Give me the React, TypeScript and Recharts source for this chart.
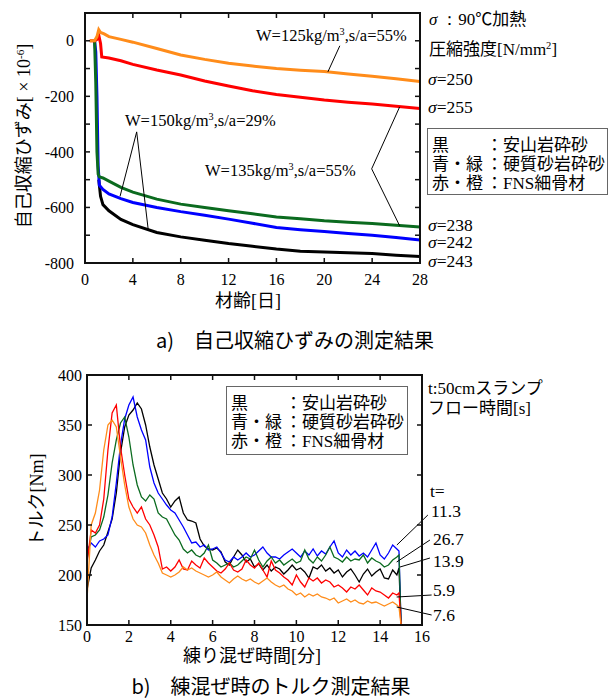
import React from "react"
import { Line, LineChart, ReferenceLine, XAxis, YAxis } from "recharts"

const SERIF = '"Liberation Serif", "Times New Roman", serif'
const SANS = '"Noto Sans CJK JP", "Noto Sans", sans-serif'
const INK = "#111111"

const COLORS = {
  black: "#000000",
  blue: "#0000ff",
  green: "#0b6b1f",
  red: "#ff0000",
  orange: "#ff8c1a",
}

// a) 自己収縮ひずみ  (材齢 [日] vs ひずみ [×10^-6])
const DAY_TICKS = [0, 4, 8, 12, 16, 20, 24, 28]
const STRAIN_TICKS = [-800, -700, -600, -500, -400, -300, -200, -100, 0]

const ORANGE_DAYS = [0.4, 0.8, 1.0, 1.15, 1.3, 1.6, 2, 3, 4, 6, 8, 10, 12, 14, 16, 18, 20, 22, 24, 26, 28]
const ORANGE_STRAIN = [0, 0, 15, 40, 30, 25, 15, 5, -5, -28, -51, -67, -81, -91, -100, -106, -111, -120, -128, -137, -147]

const RED_DAYS = [0.4, 0.8, 1.0, 1.15, 1.3, 1.4, 2, 3, 4, 6, 8, 10, 12, 14, 16, 18, 20, 22, 24, 26, 28]
const RED_STRAIN = [0, 0, 5, 20, -10, -58, -62, -72, -85, -105, -123, -145, -163, -180, -193, -203, -213, -221, -228, -236, -244]

const GREEN_DAYS = [0.8, 0.9, 1.0, 1.1, 1.2, 1.5, 2, 3, 4, 6, 8, 10, 12, 14, 16, 18, 20, 22, 24, 26, 28]
const GREEN_STRAIN = [0, -150, -400, -480, -490, -494, -505, -528, -545, -570, -588, -600, -612, -623, -634, -641, -648, -653, -658, -664, -670]

const BLUE_DAYS = [0.8, 0.9, 1.0, 1.1, 1.2, 1.5, 2, 3, 4, 6, 8, 10, 12, 14, 16, 18, 20, 22, 24, 26, 28]
const BLUE_STRAIN = [0, -40, -200, -450, -520, -535, -551, -568, -582, -600, -615, -628, -642, -657, -672, -680, -687, -694, -700, -708, -717]

const BLACK_DAYS = [1.15, 1.3, 1.5, 2, 3, 4, 6, 8, 10, 12, 14, 16, 18, 20, 22, 24, 26, 28]
const BLACK_STRAIN = [-500, -560, -590, -612, -643, -662, -690, -706, -718, -730, -740, -750, -758, -760, -763, -766, -772, -777]

// b) トルク  (練り混ぜ時間 [分] vs トルク [Nm])
const MIN_TICKS = [0, 2, 4, 6, 8, 10, 12, 14, 16]
const TORQUE_TICKS = [150, 200, 250, 300, 350, 400]

const MIX_TIME = [
  0, 0.2, 0.4, 0.6, 0.8,
  1, 1.2, 1.4, 1.6, 1.8,
  2, 2.2, 2.4, 2.6, 2.8,
  3, 3.2, 3.4, 3.6, 3.8,
  4, 4.2, 4.4, 4.6, 4.8,
  5, 5.2, 5.4, 5.6, 5.8,
  6, 6.2, 6.4, 6.6, 6.8,
  7, 7.2, 7.4, 7.6, 7.8,
  8, 8.2, 8.4, 8.6, 8.8,
  9, 9.2, 9.4, 9.6, 9.8,
  10, 10.2, 10.4, 10.6, 10.8,
  11, 11.2, 11.4, 11.6, 11.8,
  12, 12.2, 12.4, 12.6, 12.8,
  13, 13.2, 13.4, 13.6, 13.8,
  14, 14.2, 14.4, 14.6, 14.8,
  14.9, 15,
]

const TORQUE_BLACK = [
  185, 207, 215, 224, 230,
  243, 256, 282, 322, 348,
  360, 365, 372, 366, 350,
  328, 310, 296, 282, 276,
  268, 274, 278, 262, 255,
  254, 252, 236, 229, 226,
  225, 227, 223, 213, 210,
  218, 225, 220, 213, 216,
  208, 211, 205, 210, 204,
  208, 206, 201, 205, 210,
  205, 207, 203, 197, 208,
  206, 210, 204, 207, 202,
  205, 198, 203, 206, 200,
  193, 201, 206, 199, 203,
  206, 197, 196, 205, 200,
  207, 150,
]

const TORQUE_BLUE = [
  225, 232, 228, 234, 236,
  240, 258, 292, 330, 356,
  370, 378, 358, 345, 335,
  308, 292, 282, 276, 270,
  265, 262, 255, 248, 240,
  232, 233, 228, 230, 225,
  226, 228, 222, 215, 213,
  218, 215, 218, 222, 218,
  220, 224, 228, 222, 218,
  218, 216, 220, 223, 226,
  222, 218, 224, 220, 226,
  219, 224, 221, 228, 234,
  222, 218, 225, 220, 224,
  219, 222, 218, 225, 232,
  220, 216, 222, 230, 226,
  224, 150,
]

const TORQUE_GREEN = [
  215, 238, 240, 245, 258,
  280, 312, 335, 352, 358,
  338, 310, 290, 278, 274,
  280, 276, 262, 258, 256,
  248, 240, 235, 226, 222,
  225, 220, 218, 222, 230,
  215, 212, 208, 210, 212,
  208, 210, 214, 218, 216,
  225, 215, 208, 214, 218,
  212, 215, 210, 213, 216,
  212, 214, 225, 216, 212,
  218, 214, 220, 228, 218,
  216, 213, 218, 214, 216,
  215, 220, 212, 217, 214,
  212, 208, 210, 215, 218,
  220, 150,
]

const TORQUE_RED = [
  212, 245, 242, 250, 276,
  325, 362, 370, 328, 300,
  276, 268, 262, 268, 256,
  250, 240, 228, 206, 208,
  204, 208, 215, 206, 205,
  214, 210, 207, 217, 212,
  208, 204, 202, 206, 212,
  205, 203, 206, 215, 210,
  207, 212, 205, 198, 214,
  205, 202, 198, 195, 190,
  200, 193, 188, 197, 194,
  197, 192, 195, 193, 188,
  190, 187, 183, 188, 186,
  190, 185, 180, 187, 184,
  183, 180, 177, 182, 180,
  182, 150,
]

const TORQUE_ORANGE = [
  175, 250, 262, 285, 325,
  350, 355, 348, 318, 290,
  268, 256, 250, 248, 242,
  230, 220, 212, 202, 200,
  198, 200, 203, 208, 205,
  207, 204, 202, 200, 198,
  200, 203, 198, 195, 192,
  196, 199, 196, 194, 196,
  193, 191, 194, 197, 193,
  190, 188, 190, 186, 184,
  180, 182, 178, 181, 179,
  181, 178, 177, 175, 177,
  172, 174, 176, 173, 175,
  172, 171, 174, 172, 173,
  171, 169, 171, 173, 170,
  168, 150,
]

const KEY_ROWS = [
  ["黒", "安山岩砕砂"],
  ["青・緑", "硬質砂岩砕砂"],
  ["赤・橙", "FNS細骨材"],
]

const STRENGTHS = [
  { label: "250", top: 71 },
  { label: "255", top: 99 },
  { label: "238", top: 217 },
  { label: "242", top: 234 },
  { label: "243", top: 253 },
]

const FLOW_TIMES = [
  { label: "11.3", left: 431, top: 503 },
  { label: "26.7", left: 433, top: 531 },
  { label: "13.9", left: 433, top: 553 },
  { label: "5.9", left: 433, top: 582 },
  { label: "7.6", left: 433, top: 607 },
]

const zip = (xs: number[], ys: number[]) => xs.map((x, i) => ({ x, y: ys[i] }))

const torqueRows = MIX_TIME.map((t, i) => ({
  t,
  k: TORQUE_BLACK[i],
  b: TORQUE_BLUE[i],
  g: TORQUE_GREEN[i],
  r: TORQUE_RED[i],
  o: TORQUE_ORANGE[i],
}))

const numTick = { fill: "#000", fontSize: 16, fontFamily: SERIF }
const tickLn = { stroke: INK, strokeWidth: 1.5 }
const axisLn = { stroke: INK, strokeWidth: 2 }
const blank = () => ""

// all axes are mirrored so their (inward) ticks sit on the plot edge;
// negative tick margins push the labels back outside the box
function BoxAxes({
  xDomain,
  yDomain,
  xTicks,
  yTicks,
  xDataKey,
  xMargin,
  yMargin,
  yFormat,
}: any) {
  return [
    <XAxis
      key="xb"
      xAxisId="b"
      type="number"
      dataKey={xDataKey}
      domain={xDomain}
      ticks={xTicks}
      mirror
      height={30}
      tickSize={5}
      tickMargin={xMargin}
      stroke={INK}
      axisLine={axisLn}
      tickLine={tickLn}
      tick={numTick}
      allowDataOverflow
    />,
    <XAxis
      key="xt"
      xAxisId="t"
      orientation="top"
      type="number"
      dataKey={xDataKey}
      domain={xDomain}
      ticks={xTicks}
      mirror
      height={30}
      tickSize={5}
      stroke={INK}
      axisLine={axisLn}
      tickLine={tickLn}
      tick={numTick}
      tickFormatter={blank}
      allowDataOverflow
    />,
    <YAxis
      key="yl"
      yAxisId="l"
      type="number"
      domain={yDomain}
      ticks={yTicks}
      mirror
      width={60}
      tickSize={5}
      tickMargin={yMargin}
      stroke={INK}
      axisLine={axisLn}
      tickLine={tickLn}
      tick={{ ...numTick, textAnchor: "end" }}
      tickFormatter={yFormat}
      allowDataOverflow
    />,
    <YAxis
      key="yr"
      yAxisId="r"
      orientation="right"
      type="number"
      domain={yDomain}
      ticks={yTicks}
      mirror
      width={60}
      tickSize={5}
      stroke={INK}
      axisLine={axisLn}
      tickLine={tickLn}
      tick={numTick}
      tickFormatter={blank}
      allowDataOverflow
    />,
  ]
}

// plot frame made of four filled bars, sitting over the chart
function PlotFrame({ left, top, width, height }: any) {
  const bar = (l: number, t: number, w: number, h: number) => ({
    position: "absolute" as const,
    left: l,
    top: t,
    width: w,
    height: h,
    background: INK,
    zIndex: 20,
  })
  return (
    <div>
      <div style={bar(left - 1, top - 1, width + 2, 2)} />
      <div style={bar(left - 1, top + height - 1, width + 2, 2)} />
      <div style={bar(left - 1, top - 1, 2, height + 2)} />
      <div style={bar(left + width - 1, top - 1, 2, height + 2)} />
    </div>
  )
}

function Txt({ x, y, size = 17, font = SANS, children, style }: any) {
  return (
    <div
      style={{
        position: "absolute",
        left: x,
        top: y,
        fontSize: size,
        fontFamily: font,
        lineHeight: 1,
        whiteSpace: "nowrap",
        color: "#000",
        ...style,
      }}
    >
      {children}
    </div>
  )
}

const Sigma = () => <span style={{ fontFamily: SERIF, fontStyle: "italic" }}>σ</span>
const Serif = ({ children }: any) => <span style={{ fontFamily: SERIF }}>{children}</span>
const Sup = ({ children }: any) => (
  <sup style={{ fontSize: "0.62em", verticalAlign: "0.55em", lineHeight: 0 }}>{children}</sup>
)

function MaterialKey({ x, y, w, h }: { x: number; y: number; w: number; h: number }) {
  return (
    <div
      style={{
        position: "absolute",
        left: x,
        top: y,
        width: w,
        height: h,
        boxSizing: "border-box",
        border: "1.5px solid #666",
        background: "#fff",
        padding: "5px 0 0 4px",
        fontFamily: SANS,
        fontSize: 17,
        lineHeight: "19px",
        whiteSpace: "nowrap",
        zIndex: 25,
      }}
    >
      {KEY_ROWS.map(([c, m]) => (
        <div key={c} style={{ display: "flex" }}>
          <span style={{ width: 54 }}>{c}</span>
          <span>：</span>
          <span>
            {m.startsWith("FNS") ? (
              <>
                <Serif>FNS</Serif>
                {m.slice(3)}
              </>
            ) : (
              m
            )}
          </span>
        </div>
      ))}
    </div>
  )
}

function VTitle({ cx, cy, children }: any) {
  return (
    <div
      style={{
        position: "absolute",
        left: cx - 150,
        top: cy - 11,
        width: 300,
        height: 22,
        textAlign: "center",
        transform: "rotate(-90deg)",
        fontFamily: SANS,
        fontSize: 18,
        lineHeight: "22px",
        whiteSpace: "nowrap",
      }}
    >
      {children}
    </div>
  )
}

function HTitle({ cx, cy, size = 18, children }: any) {
  return (
    <div
      style={{
        position: "absolute",
        left: cx - 200,
        top: cy - size * 0.55,
        width: 400,
        textAlign: "center",
        fontFamily: SANS,
        fontSize: size,
        lineHeight: 1.1,
        whiteSpace: "nowrap",
      }}
    >
      {children}
    </div>
  )
}

function StrainChart() {
  return (
    <LineChart
      width={615}
      height={300}
      margin={{ top: 13, right: 195, bottom: 37, left: 85 }}
      style={{ position: "absolute", left: 0, top: 0 }}
    >
      {BoxAxes({
        xDomain: [0, 28],
        yDomain: [-800, 100],
        xTicks: DAY_TICKS,
        yTicks: STRAIN_TICKS,
        xDataKey: "x",
        xMargin: -27,
        yMargin: -16,
        yFormat: (v: number) => (v % 200 === 0 ? String(v) : ""),
      })}
      <Line xAxisId="b" yAxisId="l" data={zip(BLACK_DAYS, BLACK_STRAIN)} dataKey="y" stroke={COLORS.black} strokeWidth={3} dot={false} isAnimationActive={false} />
      <Line xAxisId="b" yAxisId="l" data={zip(BLUE_DAYS, BLUE_STRAIN)} dataKey="y" stroke={COLORS.blue} strokeWidth={3} dot={false} isAnimationActive={false} />
      <Line xAxisId="b" yAxisId="l" data={zip(GREEN_DAYS, GREEN_STRAIN)} dataKey="y" stroke={COLORS.green} strokeWidth={3} dot={false} isAnimationActive={false} />
      <Line xAxisId="b" yAxisId="l" data={zip(RED_DAYS, RED_STRAIN)} dataKey="y" stroke={COLORS.red} strokeWidth={3} dot={false} isAnimationActive={false} />
      <Line xAxisId="b" yAxisId="l" data={zip(ORANGE_DAYS, ORANGE_STRAIN)} dataKey="y" stroke={COLORS.orange} strokeWidth={3} dot={false} isAnimationActive={false} />
      {/* leader lines for the mix annotations */}
      <ReferenceLine xAxisId="b" yAxisId="l" ifOverflow="visible" stroke="#000" strokeWidth={1} segment={[{ x: 21.3, y: -18 }, { x: 20.3, y: -112 }]} />
      <ReferenceLine xAxisId="b" yAxisId="l" ifOverflow="visible" stroke="#000" strokeWidth={1} segment={[{ x: 4.32, y: -328 }, { x: 2.93, y: -560 }]} />
      <ReferenceLine xAxisId="b" yAxisId="l" ifOverflow="visible" stroke="#000" strokeWidth={1} segment={[{ x: 4.32, y: -328 }, { x: 5.29, y: -682 }]} />
      <ReferenceLine xAxisId="b" yAxisId="l" ifOverflow="visible" stroke="#000" strokeWidth={1} segment={[{ x: 23.96, y: -461 }, { x: 26.3, y: -238 }]} />
      <ReferenceLine xAxisId="b" yAxisId="l" ifOverflow="visible" stroke="#000" strokeWidth={1} segment={[{ x: 23.96, y: -461 }, { x: 26.3, y: -666 }]} />
    </LineChart>
  )
}

function TorqueChart() {
  const series: [string, string][] = [
    ["k", COLORS.black],
    ["b", COLORS.blue],
    ["g", COLORS.green],
    ["r", COLORS.red],
    ["o", COLORS.orange],
  ]
  const leaders = [
    [16.28, 260, 14.8, 230],
    [16.38, 235, 14.79, 213],
    [16.38, 217, 14.95, 208],
    [16.46, 180, 14.79, 178],
    [16.46, 160, 14.79, 168],
  ]
  return (
    <LineChart
      width={615}
      height={300}
      data={torqueRows}
      margin={{ top: 15, right: 193, bottom: 35, left: 87 }}
      style={{ position: "absolute", left: 0, top: 360 }}
    >
      {BoxAxes({
        xDomain: [0, 16],
        yDomain: [150, 400],
        xTicks: MIN_TICKS,
        yTicks: TORQUE_TICKS,
        xDataKey: "t",
        xMargin: -22,
        yMargin: -10,
      })}
      {series.map(([key, color]) => (
        <Line
          key={key}
          xAxisId="b"
          yAxisId="l"
          dataKey={key}
          stroke={color}
          strokeWidth={1.3}
          dot={false}
          isAnimationActive={false}
        />
      ))}
      {leaders.map(([x1, y1, x2, y2], i) => (
        <ReferenceLine
          key={i}
          xAxisId="b"
          yAxisId="l"
          ifOverflow="visible"
          stroke="#000"
          strokeWidth={1}
          segment={[{ x: x1, y: y1 }, { x: x2, y: y2 }]}
        />
      ))}
    </LineChart>
  )
}

export default function App() {
  return (
    <div
      style={{
        position: "absolute",
        left: 0,
        top: 0,
        width: 615,
        height: 700,
        background: "#fff",
        overflow: "hidden",
      }}
    >
      <StrainChart />
      <TorqueChart />
      <PlotFrame left={85} top={13} width={335} height={250} />
      <PlotFrame left={87} top={375} width={335} height={250} />

      {/* a) annotations */}
      <Txt x={256} y={28} size={16.5} font={SERIF}>
        W=125kg/m<Sup>3</Sup>,s/a=55%
      </Txt>
      <Txt x={125} y={113} size={16.5} font={SERIF}>
        W=150kg/m<Sup>3</Sup>,s/a=29%
      </Txt>
      <Txt x={205} y={163} size={16.5} font={SERIF}>
        W=135kg/m<Sup>3</Sup>,s/a=55%
      </Txt>

      <Txt x={429} y={9}>
        <Sigma /> <Serif>：90</Serif>℃加熱
      </Txt>
      <Txt x={429} y={39}>
        圧縮強度<Serif>
          [N/mm<Sup>2</Sup>]
        </Serif>
      </Txt>
      {STRENGTHS.map((s) => (
        <Txt key={s.label} x={428} y={s.top} font={SERIF} size={17.5}>
          <Sigma />={s.label}
        </Txt>
      ))}
      <MaterialKey x={427} y={128} w={181} h={67} />

      <VTitle cx={22} cy={136}>
        自己収縮ひずみ<Serif>
          [ × 10<Sup>-6</Sup>]
        </Serif>
      </VTitle>
      <HTitle cx={248} cy={300}>
        材齢<Serif>[</Serif>日<Serif>]</Serif>
      </HTitle>
      <HTitle cx={295} cy={340} size={20}>
        a)　自己収縮ひずみの測定結果
      </HTitle>

      {/* b) annotations */}
      <MaterialKey x={226} y={386} w={182} h={69} />
      <Txt x={428} y={378}>
        <Serif>t:50cm</Serif>スランプ
      </Txt>
      <Txt x={428} y={398}>
        フロー時間<Serif>[s]</Serif>
      </Txt>
      <Txt x={430} y={483} font={SERIF} size={17.5}>
        t=
      </Txt>
      {FLOW_TIMES.map((f) => (
        <Txt key={f.label} x={f.left} y={f.top} font={SERIF} size={17.5}>
          {f.label}
        </Txt>
      ))}

      <VTitle cx={35} cy={500}>
        トルク<Serif>[Nm]</Serif>
      </VTitle>
      <HTitle cx={252} cy={655}>
        練り混ぜ時間<Serif>[</Serif>分<Serif>]</Serif>
      </HTitle>
      <HTitle cx={271} cy={686} size={20}>
        b)　練混ぜ時のトルク測定結果
      </HTitle>
    </div>
  )
}
